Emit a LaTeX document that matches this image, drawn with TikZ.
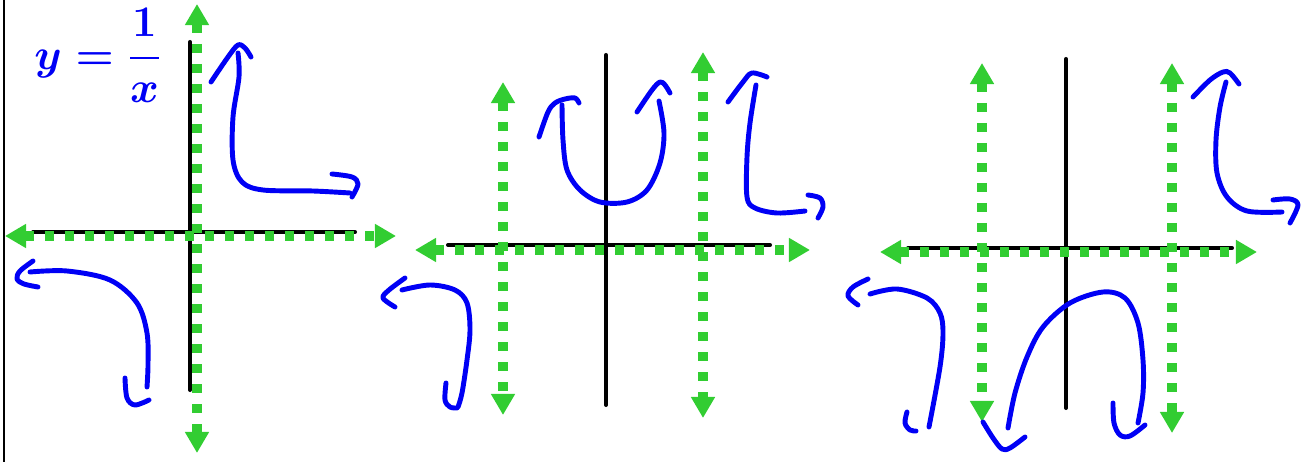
\documentclass[tikz,border=0pt]{standalone}
\usepackage{amsmath}
\usepackage{xcolor}
\usepackage{tikz}
\usetikzlibrary{arrows.meta}
\definecolor{penc}{HTML}{0000F5}
\definecolor{asyc}{HTML}{32CD32}
\tikzset{
  ax/.style={black,line width=2.3pt,line cap=round},
  asy/.style={asyc,line width=5.2pt,dash pattern=on 5.2pt off 6.2pt,
    {Triangle[length=12pt,width=13pt]}-{Triangle[length=12pt,width=13pt]}},
  pen/.style={penc,line width=2.8pt,line cap=round,line join=round},
  sk/.style={pen,tension=0.55}
}
\begin{document}
\begin{tikzpicture}[x=0.02cm,y=-0.02cm]
\useasboundingbox (0,0) rectangle (1305,462);
\draw[black,line width=1.1pt] (4,0)--(4,462);
\node[font=\fontsize{23}{27}\selectfont\boldmath,penc,anchor=north west,inner sep=0pt] (lbl) at (34,8) {$\displaystyle y=\frac{1}{x}$};
% first graph
\draw[ax] (190,42)--(190,390);
\draw[ax] (33,232)--(355,232);
\draw[asy] (197,4)--(197,453);
\draw[asy] (5,236)--(396,236);
\draw[sk] plot[smooth] coordinates {(238,53) (239,77) (233,117) (233,160) (242,182) (263,190) (313,191) (350,193)};
\draw[sk] plot[smooth] coordinates {(211,82) (228,57) (238,45) (245,48) (251,57)};
\draw[sk] plot[smooth] coordinates {(332,174) (352,177) (358,184) (352,197)};
\draw[sk] plot[smooth] coordinates {(33,261) (20,271) (17,279) (24,284) (38,287)};
\draw[sk] plot[smooth] coordinates {(30,272) (67,271) (110,280) (137,303) (147,333) (148,365) (147,387)};
\draw[sk] plot[smooth] coordinates {(125,378) (127,398) (135,405) (149,400)};
% second graph
\draw[ax] (606,55)--(606,405);
\draw[ax] (448,245)--(770,245);
\draw[asy] (415,250)--(810,250);
\foreach \xa/\ya/\yb in {503/82/415,703/52/418}
  \draw[asy] (\xa,\ya)--(\xa,\yb);
\draw[sk] plot[smooth] coordinates {(539,137) (548,112) (555,103) (565,99) (575,98) (579,103)};
\draw[sk] plot[smooth] coordinates {(562,105) (563,140) (567,170) (580,190) (600,202) (627,202) (647,190) (660,163) (664,133) (659,101)};
\draw[sk] plot[smooth] coordinates {(637,112) (652,90) (660,82) (665,85) (670,93)};
\draw[sk] plot[smooth] coordinates {(728,102) (743,82) (752,73) (767,77)};
\draw[sk] plot[smooth] coordinates {(756,85) (750,123) (747,157) (747,197) (755,208) (777,213) (805,211)};
\draw[sk] plot[smooth] coordinates {(808,195) (820,198) (823,207) (818,218)};
\draw[sk] plot[smooth] coordinates {(405,278) (389,290) (383,298) (395,307)};
\draw[sk] plot[smooth] coordinates {(402,290) (430,285) (455,290) (467,303) (470,330) (467,360) (462,393) (458,407)};
\draw[sk] plot[smooth] coordinates {(446,383) (445,400) (450,407) (457,408)};
% third graph
\draw[ax] (1066,59)--(1066,408);
\draw[ax] (908,248)--(1232,248);
\draw[asy] (880,252)--(1257,252);
\foreach \xa/\ya/\yb in {982/63/422,1172/63/433}
  \draw[asy] (\xa,\ya)--(\xa,\yb);
\draw[sk] plot[smooth] coordinates {(1193,97) (1210,80) (1223,72) (1230,73) (1239,84)};
\draw[sk] plot[smooth] coordinates {(1226,82) (1220,107) (1216,140) (1217,173) (1227,197) (1247,211) (1282,212)};
\draw[sk] plot[smooth] coordinates {(1273,200) (1290,199) (1298,205) (1290,223)};
\draw[sk] plot[smooth] coordinates {(868,279) (853,287) (848,296) (858,305)};
\draw[sk] plot[smooth] coordinates {(870,294) (897,289) (927,298) (940,313) (943,333) (940,367) (929,427)};
\draw[sk] plot[smooth] coordinates {(907,412) (905,423) (910,430) (916,431)};
\draw[sk] plot[smooth] coordinates {(983,422) (993,438) (1002,449) (1010,448) (1025,437)};
\draw[sk] plot[smooth] coordinates {(1008,428) (1015,393) (1027,357) (1043,327) (1070,303) (1103,292) (1125,298) (1138,323) (1143,360) (1143,393) (1138,423)};
\draw[sk] plot[smooth] coordinates {(1113,403) (1114,423) (1120,435) (1130,436) (1145,425)};
\end{tikzpicture}
\end{document}
